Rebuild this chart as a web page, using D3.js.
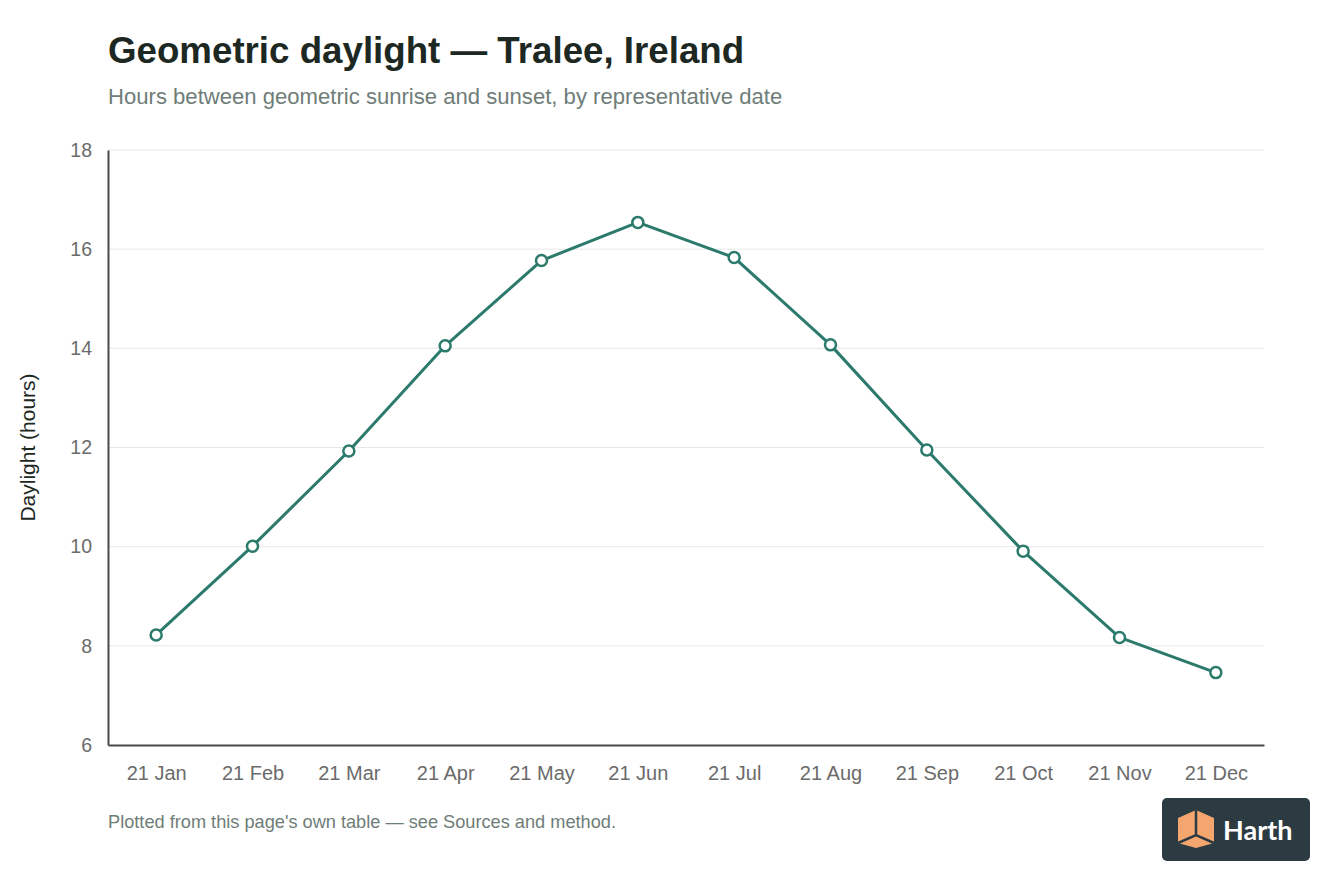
<!DOCTYPE html>
<html>
<head>
<meta charset="utf-8">
<script src="https://cdn.jsdelivr.net/npm/d3@7"></script>
<style>
  html, body { margin: 0; padding: 0; background: #fff; }
  svg { display: block; font-family: "Liberation Sans", Arial, Helvetica, sans-serif; }
</style>
</head>
<body>
<div id="chart"></div>
<script>
// daylight at each representative date
const dates = ["21 Jan", "21 Feb", "21 Mar", "21 Apr", "21 May", "21 Jun",
               "21 Jul", "21 Aug", "21 Sep", "21 Oct", "21 Nov", "21 Dec"];
const hours = [8.22, 10.01, 11.93, 14.05, 15.77, 16.54,
               15.83, 14.07, 11.95, 9.91, 8.17, 7.46];
const yTicks = [6, 8, 10, 12, 14, 16, 18];

const width = 1344, height = 896;
const margin = { top: 150, right: 80, bottom: 151, left: 108 };

const svg = d3.select("#chart")
  .append("svg")
  .attr("width", width)
  .attr("height", height);

const x = d3.scalePoint()
  .domain(dates)
  .range([margin.left, width - margin.right])
  .padding(0.5);

const y = d3.scaleLinear()
  .domain([6, 18])
  .range([height - margin.bottom, margin.top]);

// title + subtitle
svg.append("text")
  .attr("x", 108).attr("y", 63)
  .attr("fill", "#1d2823")
  .attr("font-size", 36.7)
  .attr("font-weight", 700)
  .text("Geometric daylight \u2014 Tralee, Ireland");

svg.append("text")
  .attr("x", 108).attr("y", 104)
  .attr("fill", "#6f7d78")
  .attr("font-size", 22.1)
  .text("Hours between geometric sunrise and sunset, by representative date");

// gridlines
svg.append("g")
  .selectAll("line")
  .data(yTicks.slice(1))
  .join("line")
  .attr("x1", margin.left).attr("x2", width - margin.right)
  .attr("y1", d => y(d)).attr("y2", d => y(d))
  .attr("stroke", "#e6e8e7")
  .attr("stroke-width", 1);

// axes
const yAxis = svg.append("g")
  .attr("transform", `translate(${margin.left},0)`)
  .call(d3.axisLeft(y).tickValues(yTicks).tickSize(0).tickPadding(16));
yAxis.select(".domain").attr("stroke", "#4a4a4a").attr("stroke-width", 2);
yAxis.selectAll("text")
  .attr("fill", "#6b6b6b")
  .attr("font-size", 19.5)
  .attr("font-family", "Liberation Sans, Arial, sans-serif");

const xAxis = svg.append("g")
  .attr("transform", `translate(0,${height - margin.bottom})`)
  .call(d3.axisBottom(x).tickSize(0).tickPadding(21));
xAxis.select(".domain").attr("stroke", "#4a4a4a").attr("stroke-width", 2);
xAxis.selectAll("text")
  .attr("fill", "#6b6b6b")
  .attr("font-size", 20)
  .attr("font-family", "Liberation Sans, Arial, sans-serif");

// y axis label
svg.append("text")
  .attr("transform", `translate(35,${(margin.top + height - margin.bottom) / 2}) rotate(-90)`)
  .attr("text-anchor", "middle")
  .attr("fill", "#1d2823")
  .attr("font-size", 21)
  .text("Daylight (hours)");

// the line
const line = d3.line()
  .x((d, i) => x(dates[i]))
  .y(d => y(d));

svg.append("path")
  .datum(hours)
  .attr("fill", "none")
  .attr("stroke", "#2b7a6b")
  .attr("stroke-width", 3)
  .attr("stroke-linejoin", "round")
  .attr("d", line);

svg.append("g")
  .selectAll("circle")
  .data(hours)
  .join("circle")
  .attr("cx", (d, i) => x(dates[i]))
  .attr("cy", d => y(d))
  .attr("r", 5.5)
  .attr("fill", "#fff")
  .attr("stroke", "#2b7a6b")
  .attr("stroke-width", 2.5);

// footer note
svg.append("text")
  .attr("x", 108).attr("y", 828)
  .attr("fill", "#6f7d78")
  .attr("font-size", 18.2)
  .text("Plotted from this page's own table \u2014 see Sources and method.");

// logo badge
const logo = svg.append("g").attr("transform", "translate(1162,798)");
logo.append("rect")
  .attr("width", 148).attr("height", 63)
  .attr("rx", 5)
  .attr("fill", "#2c3a42");
logo.append("path")
  .attr("d", "M34,12 L52,20 L52,45 L34,50 L16,45 L16,20 Z")
  .attr("fill", "#f4a66e");
logo.append("path")
  .attr("d", "M34,12 L34,37 M16,45 L34,37 L52,45")
  .attr("fill", "none")
  .attr("stroke", "#2c3a42")
  .attr("stroke-width", 2.5);
logo.append("text")
  .attr("x", 61).attr("y", 42)
  .attr("fill", "#fff")
  .attr("font-size", 27)
  .attr("font-weight", 700)
  .attr("font-family", "Lato, 'Liberation Sans', sans-serif")
  .text("Harth");
</script>
</body>
</html>
